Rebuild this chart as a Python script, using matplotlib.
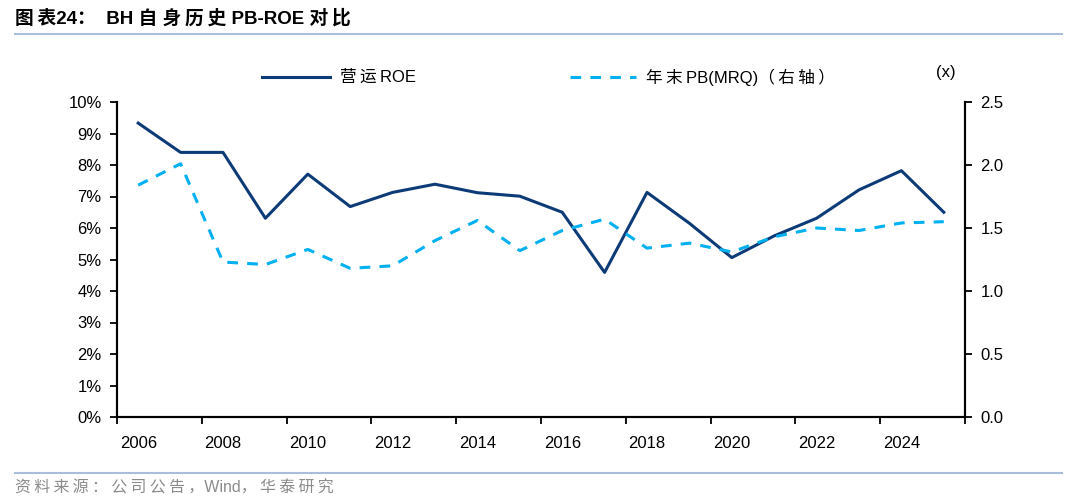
import matplotlib
matplotlib.use('Agg')
import matplotlib.pyplot as plt
import numpy as np
from matplotlib.lines import Line2D

plt.rcParams['font.family'] = ['Liberation Sans', 'Noto Sans CJK SC', 'DejaVu Sans']

years = list(range(2006, 2026))
roe = [9.33, 8.40, 8.40, 6.31, 7.71, 6.68, 7.13, 7.39, 7.12, 7.01,
       6.50, 4.59, 7.13, 6.15, 5.06, 5.75, 6.31, 7.21, 7.82, 6.50]
pb = [1.84, 2.01, 1.23, 1.21, 1.33, 1.18, 1.20, 1.40, 1.56, 1.32,
      1.48, 1.57, 1.34, 1.38, 1.31, 1.43, 1.50, 1.48, 1.54, 1.55]

c_roe = '#0d3b78'
c_pb = '#00b0f0'
ts = '\u2009'  # thin space, to mimic the wide CJK letter spacing

fig = plt.figure(figsize=(10.8, 5.04), dpi=100)
ax = fig.add_axes([117/1080, 1-417/504, (965-117)/1080, (417-102)/504])
ax2 = ax.twinx()

x = np.arange(len(years))
ax.plot(x, roe, color=c_roe, lw=2.2)
ax2.plot(x, pb, color=c_pb, lw=2.2, ls=(0, (3.5, 3)))

ax.set_xlim(-0.5, len(years)-0.5)
ax.set_ylim(0, 10)
ax2.set_ylim(0, 2.5)

ax.set_yticks(np.arange(0, 11, 1))
ax.set_yticklabels([f'{v}%' for v in range(0, 11)])
ax2.set_yticks(np.arange(0, 2.6, 0.5))
ax2.set_yticklabels([f'{v:.1f}' for v in np.arange(0, 2.6, 0.5)])

# year labels centred on the category, tick marks on the boundaries
ax.set_xticks(x[::2])
ax.set_xticklabels([str(y) for y in years[::2]])
ax.set_xticks(np.arange(-0.5, len(years), 2), minor=True)
ax.tick_params(axis='x', which='major', length=0, pad=14, labelsize=12)
ax.tick_params(axis='x', which='minor', length=5, width=1.3, direction='out')

for a in (ax, ax2):
    a.spines['top'].set_visible(False)
    for s in a.spines.values():
        s.set_linewidth(1.5)
        s.set_color('black')
ax.tick_params(axis='y', length=5, width=1.3, labelsize=12, pad=6)
ax2.tick_params(axis='y', length=5, width=1.3, labelsize=12, pad=6)

# legend drawn by hand to sit where the reference has it
ly = 1 - 77/504
fig.add_artist(Line2D([262/1080, 330/1080], [ly, ly], color=c_roe, lw=2.2))
fig.text(340/1080, ly, '营' + ts + '运' + ts + 'ROE', fontsize=12, ha='left', va='center')
fig.add_artist(Line2D([570/1080, 636/1080], [ly, ly], color=c_pb, lw=2.2, ls=(0, (3.5, 3))))
fig.text(646/1080, ly, ts.join('年末') + ts + 'PB(MRQ)' + ts.join('（右轴）'),
         fontsize=12, ha='left', va='center')

fig.text(946/1080, 1-73/504, '(x)', fontsize=12, ha='center', va='center')

# title, rules and source
title = ts.join('图表') + '24：  BH ' + '自 ' + ts.join('身历史') + ' PB-ROE ' + ts.join('对比')
fig.text(15/1080, 1-18/504, title, fontsize=13.5, fontweight='bold', ha='left', va='center')
fig.add_artist(Line2D([15/1080, 1062/1080], [1-34/504, 1-34/504], color='#a9bed8', lw=1.5))
fig.add_artist(Line2D([15/1080, 1062/1080], [1-473/504, 1-473/504], color='#a9bed8', lw=1.5))
source = ts.join('资料来源：公司公告，') + 'Wind' + ts.join('，华泰研究')
fig.text(15/1080, 1-488/504, source, fontsize=11.5, color='#8c8c8c', ha='left', va='center')

fig.savefig('out.png', dpi=100)
